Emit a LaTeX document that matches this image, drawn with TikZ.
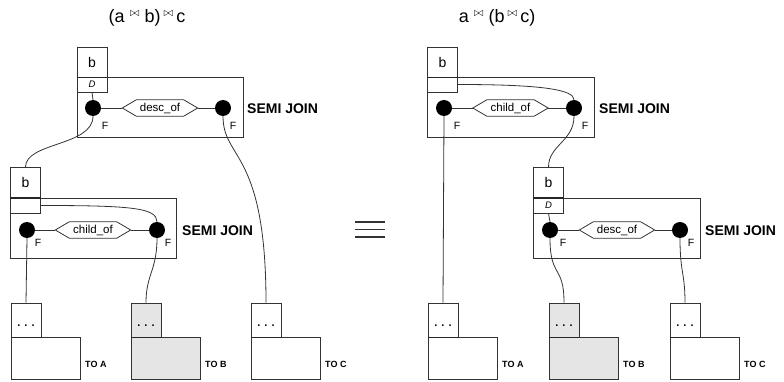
\documentclass[tikz,border=0pt]{standalone}
\usepackage{fontspec}
\setmainfont{Liberation Sans}
\usetikzlibrary{calc}
\newcommand\mybowtie{\raisebox{6pt}{\fontsize{12}{12}\selectfont$\bowtie$}}
\begin{document}
\begin{tikzpicture}[x=1pt,y=-1pt,
  wire/.style={draw=black!80,line width=0.8pt},
  cell/.style={draw=black!80,line width=0.8pt,inner sep=0pt,fill=white},
  bcell/.style={cell,minimum width=30pt,minimum height=30pt,font=\fontsize{14}{14}\selectfont},
  dcell/.style={cell,minimum width=30pt,minimum height=15pt,font=\fontsize{9.5}{9.5}\selectfont\itshape},
  sjbox/.style={draw=black!80,line width=0.8pt,inner sep=0pt,minimum width=166pt,minimum height=60pt},
  portdot/.style={circle,fill=black,inner sep=0pt,minimum size=16pt},
  hexa/.style={inner sep=0pt,minimum width=75pt,minimum height=16pt,font=\fontsize{11.5}{11.5}\selectfont},
  flab/.style={inner sep=0pt,font=\fontsize{10.5}{10.5}\selectfont},
  sjlab/.style={anchor=west,inner sep=0pt,font=\fontsize{14}{14}\selectfont\bfseries},
  dotbox/.style={cell,minimum width=30pt,minimum height=34pt,text height=13pt,text depth=0pt,font=\fontsize{11}{11}\selectfont\bfseries},
  tblbox/.style={cell,minimum width=69pt,minimum height=42pt},
  shaded/.style={fill=black!10},
  tolab/.style={anchor=west,inner sep=0pt,font=\fontsize{9}{9}\selectfont\bfseries},
  ttl/.style={inner sep=0pt,font=\fontsize{18}{18}\selectfont},
  divider/.style={draw=black!85,line width=1.6pt},
  hexpath/.style={wire}
]
\useasboundingbox (0,0) rectangle (784,382);

% ---------------- titles ----------------
\node[ttl] (t1) at (147,18) {(a \mybowtie\ b)\,\mybowtie\,c};
\node[ttl] (t2) at (497,18) {a \mybowtie\ (b\,\mybowtie\,c)};

% ================= LEFT =================
% top semi join
\node[sjbox] (sjT) at (160,107) {};
\node[bcell] (bT) at (92,62) {b};
\node[dcell] (dT) at (92,84.5) {D};
\draw[divider] (bT.south west) -- (bT.south east);
\node[hexa] (hT) at (160,108) {desc\_of};
\draw[hexpath] (hT.west) -- ($(hT.north west)+(14,0)$) -- ($(hT.north east)+(-14,0)$) -- (hT.east) -- ($(hT.south east)+(-14,0)$) -- ($(hT.south west)+(14,0)$) -- cycle;
\node[portdot] (pTL) at (93,108) {};
\node[portdot] (pTR) at (223,108) {};
\draw[wire] (pTL) -- (hT);
\draw[wire] (hT) -- (pTR);
\node[flab] (fTL) at (105,126) {F};
\node[flab] (fTR) at (233,126) {F};
\node[sjlab] (sT) at (247,109) {SEMI JOIN};

% lower semi join
\node[sjbox] (sjL) at (93,228) {};
\node[bcell] (bL) at (25.5,182.5) {b};
\node[dcell] (dL) at (25.5,205.5) {};
\draw[divider] (bL.south west) -- (bL.south east);
\node[hexa] (hL) at (93,230) {child\_of};
\draw[hexpath] (hL.west) -- ($(hL.north west)+(14,0)$) -- ($(hL.north east)+(-14,0)$) -- (hL.east) -- ($(hL.south east)+(-14,0)$) -- ($(hL.south west)+(14,0)$) -- cycle;
\node[portdot] (pLL) at (27,230) {};
\node[portdot] (pLR) at (157,230) {};
\draw[wire] (pLL) -- (hL);
\draw[wire] (hL) -- (pLR);
\node[flab] (fLL) at (38,243) {F};
\node[flab] (fLR) at (168,243) {F};
\node[sjlab] (sL) at (182,231) {SEMI JOIN};

% bottom tables
\node[tblbox] (aT) at (45.5,358) {};
\node[dotbox] (aD) at (26,320) {. . .};
\draw[divider] (aD.south west) -- (aD.south east);
\node[tolab] (aL) at (85,364.5) {TO A};

\node[tblbox,shaded] (bTb) at (165.5,358) {};
\node[dotbox,shaded] (bD) at (146,320) {. . .};
\draw[divider] (bD.south west) -- (bD.south east);
\node[tolab] (bLb) at (205,364.5) {TO B};

\node[tblbox] (cT) at (285.5,358) {};
\node[dotbox] (cD) at (266,320) {. . .};
\draw[divider] (cD.south west) -- (cD.south east);
\node[tolab] (cL) at (325,364.5) {TO C};

% connectors
\draw[wire] (dT.south) .. controls +(0,4) and +(0,-4) .. (pTL.north);
\draw[wire] (pTL.south) .. controls +(0,30) and +(0,-25) .. (bL.north);
\draw[wire] (pTR.south) .. controls +(0,44) and +(0,-153) .. (cD.north);
\draw[wire] (dL.east) .. controls +(90,0) and +(0,-14) .. (pLR.north);
\draw[wire] (pLL.south) -- (aD.north);
\draw[wire] (pLR.south) .. controls +(0,32) and +(0,-28) .. (bD.north);

% ================= equivalence =================
\draw[line width=1.4pt,black!80] (355,222) -- (385,222);
\draw[line width=1.4pt,black!80] (355,229.5) -- (385,229.5);
\draw[line width=1.4pt,black!80] (355,237) -- (385,237);

% ================= RIGHT =================
\node[sjbox,minimum width=167pt] (sjT2) at (510.5,107) {};
\node[bcell] (bT2) at (442.5,62) {b};
\node[dcell] (dT2) at (442.5,84.5) {};
\draw[divider] (bT2.south west) -- (bT2.south east);
\node[hexa] (hT2) at (510.5,108) {child\_of};
\draw[hexpath] (hT2.west) -- ($(hT2.north west)+(14,0)$) -- ($(hT2.north east)+(-14,0)$) -- (hT2.east) -- ($(hT2.south east)+(-14,0)$) -- ($(hT2.south west)+(14,0)$) -- cycle;
\node[portdot] (pTL2) at (444,108) {};
\node[portdot] (pTR2) at (574,108) {};
\draw[wire] (pTL2) -- (hT2);
\draw[wire] (hT2) -- (pTR2);
\node[flab] (fTL2) at (457,126) {F};
\node[flab] (fTR2) at (585,126) {F};
\node[sjlab] (sT2) at (599,109) {SEMI JOIN};

\node[sjbox,minimum width=167pt] (sjL2) at (616.5,228) {};
\node[bcell] (bL2) at (548.5,182.5) {b};
\node[dcell] (dL2) at (548.5,205.5) {D};
\draw[divider] (bL2.south west) -- (bL2.south east);
\node[hexa] (hL2) at (617,230) {desc\_of};
\draw[hexpath] (hL2.west) -- ($(hL2.north west)+(14,0)$) -- ($(hL2.north east)+(-14,0)$) -- (hL2.east) -- ($(hL2.south east)+(-14,0)$) -- ($(hL2.south west)+(14,0)$) -- cycle;
\node[portdot] (pLL2) at (550,230) {};
\node[portdot] (pLR2) at (680,230) {};
\draw[wire] (pLL2) -- (hL2);
\draw[wire] (hL2) -- (pLR2);
\node[flab] (fLL2) at (563,243) {F};
\node[flab] (fLR2) at (691,243) {F};
\node[sjlab] (sL2) at (705,231) {SEMI JOIN};

\node[tblbox] (aT2) at (462.5,358) {};
\node[dotbox] (aD2) at (443,320) {. . .};
\draw[divider] (aD2.south west) -- (aD2.south east);
\node[tolab] (aL2) at (502,364.5) {TO A};

\node[tblbox,shaded] (bTb2) at (583.5,358) {};
\node[dotbox,shaded] (bD2) at (564,320) {. . .};
\draw[divider] (bD2.south west) -- (bD2.south east);
\node[tolab] (bLb2) at (623,364.5) {TO B};

\node[tblbox] (cT2) at (704.5,358) {};
\node[dotbox] (cD2) at (685,320) {. . .};
\draw[divider] (cD2.south west) -- (cD2.south east);
\node[tolab] (cL2) at (744,364.5) {TO C};

\draw[wire] (dT2.east) .. controls +(85,0) and +(0,-10) .. (pTR2.north);
\draw[wire] (pTL2.south) -- (aD2.north);
\draw[wire] (pTR2.south) .. controls +(0,25) and +(0,-22) .. (bL2.north);
\draw[wire] (dL2.south) .. controls +(0,4) and +(0,-4) .. (pLL2.north);
\draw[wire] (pLL2.south) .. controls +(0,40) and +(0,-38) .. (bD2.north);
\draw[wire] (pLR2.south) .. controls +(0,35) and +(0,-30) .. (cD2.north);
\end{tikzpicture}
\end{document}
